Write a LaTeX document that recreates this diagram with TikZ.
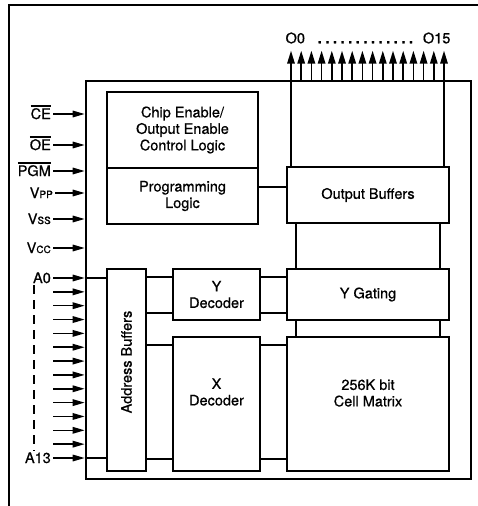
\documentclass[tikz,border=0pt]{standalone}
\usepackage{fontspec}
\setmainfont{TeX Gyre Heros}[FakeBold=0.7]
\usetikzlibrary{arrows.meta, calc}

\tikzset{
  blk/.style={draw, line width=2pt, inner sep=0pt, align=center},
  wire/.style={line width=1.6pt},
  pin/.style={line width=1.6pt, -{Triangle[length=12pt,width=6.5pt]}},
  outpin/.style={line width=1.6pt, -{Triangle[length=13pt,width=7.5pt]}},
  sig/.style={anchor=east, inner sep=2pt, text height=10pt, text depth=0pt},
}
\newcommand{\ovl}[1]{\leavevmode\vbox{\hrule height 1.1pt\kern 1.6pt\hbox{#1}}}
\newcommand{\smallsub}[1]{{\fontsize{10}{10}\selectfont #1}}

\begin{document}
\begin{tikzpicture}[x=1pt, y=-1pt, font=\fontsize{14.5}{16.5}\selectfont]
\useasboundingbox (0,0) rectangle (478,506);
% page frame
\draw[line width=1.3pt] (9,506) -- (9,5) -- (478,5);

% chip outline
\node[blk, line width=2.6pt, minimum width=385pt, minimum height=398pt] (chip) at (278.5,280) {};

% blocks
\node[blk, minimum width=151pt, minimum height=76pt] (ctl) at (182.5,130) {Chip Enable/\\Output Enable\\Control Logic};
\node[blk, minimum width=151pt, minimum height=56pt] (prg) at (182.5,196) {Programming\\Logic};
\node[blk, minimum width=162pt, minimum height=56pt] (ob) at (368,195) {Output Buffers};
\node[blk, minimum width=162pt, minimum height=51pt] (yg) at (368,294.5) {Y Gating};
\node[blk, minimum width=162pt, minimum height=134pt,
      label={[align=center, yshift=11pt]center:{256K bit\\Cell Matrix}}] (cm) at (368,404) {};
\node[blk, minimum width=87pt, minimum height=51pt] (yd) at (216.5,294.5) {Y\\Decoder};
\node[blk, minimum width=87pt, minimum height=134pt,
      label={[align=center, yshift=12pt]center:{X\\Decoder}}] (xd) at (216.5,404) {};
\node[blk, minimum width=39pt, minimum height=202pt,
      label={[yshift=8pt, rotate=90]center:Address Buffers}] (ab) at (126.5,370) {};

% internal wiring
\draw[wire] ([yshift=9pt]prg.east) -- ([yshift=8pt]ob.west);
\draw[wire] ([xshift=10pt]ob.south west) -- ([xshift=10pt]yg.north west);
\draw[wire] ([xshift=-10pt]ob.south east) -- ([xshift=-10pt]yg.north east);
\draw[wire] ([xshift=10pt]yg.south west) -- ([xshift=10pt]cm.north west);
\draw[wire] ([xshift=-10pt]yg.south east) -- ([xshift=-10pt]cm.north east);
\coordinate (ydu) at ([yshift=-9pt]yd.north west);
\coordinate (ydl) at ([yshift=8pt]yd.south west);
\coordinate (xdu) at ([yshift=-9pt]xd.north west);
\coordinate (xdl) at ([yshift=13pt]xd.south west);
\draw[wire] (ydu -| ab.east) -- (ydu);
\draw[wire] (ydl -| ab.east) -- (ydl);
\draw[wire] (xdu -| ab.east) -- (xdu);
\draw[wire] (xdl -| ab.east) -- (xdl);
\draw[wire] (ydu -| yd.east) -- (ydu -| yg.west);
\draw[wire] (ydl -| yd.east) -- (ydl -| yg.west);
\draw[wire] (xdu -| xd.east) -- (xdu -| cm.west);
\draw[wire] (xdl -| xd.east) -- (xdl -| cm.west);

% control and supply pins
\node[sig] (ce) at (53,114) {\ovl{CE}};
\node[sig] (oe) at (53,145) {\ovl{OE}};
\node[sig] (pgm) at (53,171) {\ovl{PGM}};
\node[sig] (vpp) at (55,193) {V\smallsub{PP}};
\node[sig] (vss) at (53,219) {V\smallsub{SS}};
\node[sig] (vcc) at (53,248) {V\smallsub{CC}};
\foreach \s in {ce,oe,pgm,vpp,vss,vcc}
  \draw[pin] (\s) -- (\s -| chip.west);

% address pins
\node[sig] (a0) at (53,278) {A0};
\node[sig] (a13) at (53,458) {A13};
\foreach \i in {0,...,13} {
  \coordinate (p) at ($(a0.east)!\i/13!(a13.east)$);
  \draw[pin] (p) -- (p -| chip.west);
}
\draw[line width=2.6pt, dash pattern=on 9pt off 6pt] ([xshift=-4pt]a13.north |- a0.south) -- ([xshift=-4pt]a13.north);
\draw[wire] (a0 -| chip.west) -- (a0 -| ab.west);
\draw[wire] (a13 -| chip.west) -- (a13 -| ab.west);

% outputs
\coordinate (q0) at ([xshift=5pt]ob.north west);
\coordinate (q15) at ([xshift=-6pt]ob.north east);
\coordinate (b0) at (q0 |- chip.north);
\coordinate (b15) at (q15 |- chip.north);
\draw[wire] (q0) -- (b0);
\draw[wire] (q15) -- (b15);
\foreach \i in {0,...,15}
  \draw[outpin] ($(b0)!\i/15!(b15)$) -- ++(0,-29);
\node (olab) at (368,38) {O0\hskip 7pt\leaders\hbox to 7.6pt{\hss\textbf{.}\hss}\hskip 106pt\hskip 5pt O15};
\end{tikzpicture}
\end{document}
